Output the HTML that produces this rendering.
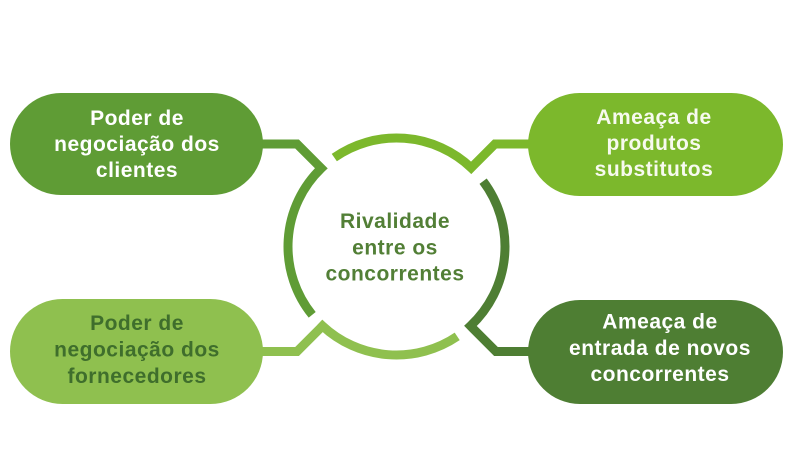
<!DOCTYPE html>
<html>
<head>
<meta charset="utf-8">
<style>
  html,body{margin:0;padding:0;background:#ffffff;}
  body{width:800px;height:476px;overflow:hidden;}
  svg{display:block;}
  text{font-family:"Liberation Sans", Arial, sans-serif;font-weight:bold;font-size:21px;letter-spacing:0.5px;text-anchor:middle;}
</style>
</head>
<body>
<svg width="800" height="476" viewBox="0 0 800 476" xmlns="http://www.w3.org/2000/svg">
  <rect width="800" height="476" fill="#ffffff"/>

  <!-- arcs + connectors -->
  <g fill="none" stroke-width="9" stroke-linejoin="miter" stroke-miterlimit="10" stroke-linecap="butt">
    <path d="M334.3 157.6 A108.5 108.5 0 0 1 471.2 167.8 L472.5 166.5 L495 144 H545" stroke="#7cb82c"/>
    <path d="M483.1 181.2 A108.5 108.5 0 0 1 470.5 325.9 L472.5 328 L496 351.5 H545" stroke="#4e7e33"/>
    <path d="M457.2 336.4 A108.5 108.5 0 0 1 322.5 325.9 L320.5 328 L297 351.5 H245" stroke="#8fc04f"/>
    <path d="M312.2 314.8 A108.5 108.5 0 0 1 321.3 168.3 L319.5 166.5 L297 144 H245" stroke="#5f9c35"/>
  </g>

  <!-- pills -->
  <rect x="10" y="93" width="253" height="102" rx="51" ry="51" fill="#5f9c35"/>
  <rect x="528" y="93" width="255" height="103" rx="51.5" ry="51.5" fill="#7cb82c"/>
  <rect x="10" y="299" width="253" height="105" rx="52.5" ry="52.5" fill="#8fc04f"/>
  <rect x="528" y="300" width="255" height="104" rx="52" ry="52" fill="#4e7e33"/>

  <!-- pill texts -->
  <g fill="#ffffff">
    <text x="137" y="125">Poder de</text>
    <text x="137" y="151">negociação dos</text>
    <text x="137" y="177">clientes</text>
  </g>
  <g fill="#f7faef">
    <text x="654" y="124">Ameaça de</text>
    <text x="654" y="150">produtos</text>
    <text x="654" y="176">substitutos</text>
  </g>
  <g fill="#3f6e2c">
    <text x="137" y="330">Poder de</text>
    <text x="137" y="356.5">negociação dos</text>
    <text x="137" y="383">fornecedores</text>
  </g>
  <g fill="#ffffff">
    <text x="660" y="328.5">Ameaça de</text>
    <text x="660" y="355">entrada de novos</text>
    <text x="660" y="381">concorrentes</text>
  </g>

  <!-- center text -->
  <g fill="#527f36">
    <text x="395" y="228">Rivalidade</text>
    <text x="395" y="254.5">entre os</text>
    <text x="395" y="280.5">concorrentes</text>
  </g>
</svg>
</body>
</html>
